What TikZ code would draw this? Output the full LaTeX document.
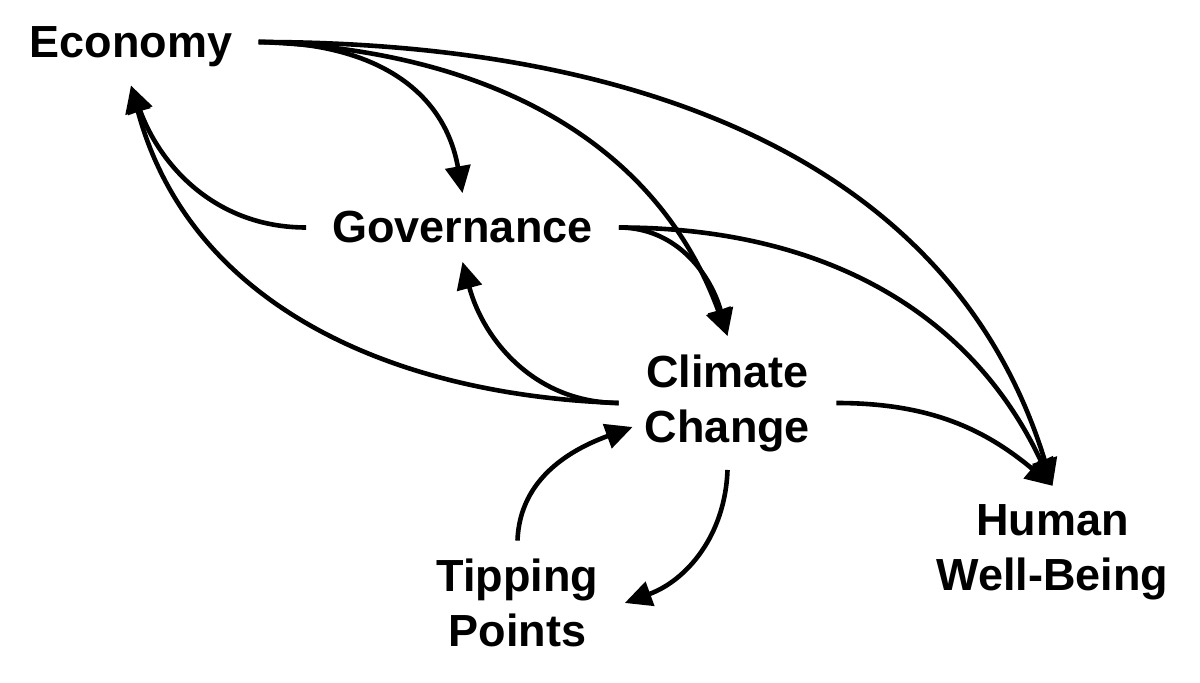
\documentclass[tikz,border=0pt]{standalone}
\usepackage{fontspec}
\setmainfont{Liberation Sans}
\usetikzlibrary{arrows.meta}

\begin{document}
\begin{tikzpicture}[x=0.5pt, y=-0.5pt, >={Triangle[length=13.5pt, width=12.5pt]},
    factor/.style={font=\fontsize{22.5}{27.5}\selectfont\bfseries, align=center, inner xsep=13pt, inner ysep=9pt},
    link/.style={->, line width=2.3pt}]

    \useasboundingbox (0,0) rectangle (1200,683);

    % factors
    \node[factor] (eco) at (131,47) {Economy};
    \node[factor] (gov) at (462.5,227.5) {Governance};
    \node[factor] (cc) at (727.5,403) {Climate\\Change};
    \node[factor] (tp) at (517.5,603) {Tipping\\Points};
    \node[factor] (hwb) at (1052.5,552) {Human\\Well-Being};

    % from economy
    \draw[link] ([yshift=2.5pt]eco.east) to[out=0, in=100, looseness=1.1] (gov.north);
    \draw[link] ([yshift=2.5pt]eco.east) to[out=-2, in=110] (cc.north);
    \draw[link] ([yshift=2.5pt]eco.east) to[out=0, in=107] (hwb.north);

    % from governance
    \draw[link] (gov.west) to[out=180, in=-70] (eco.south);
    \draw[link] (gov.east) to[out=0, in=105] (cc.north);
    \draw[link] (gov.east) to[out=0, in=115] (hwb.north);

    % from climate change
    \draw[link] (cc.west) to[out=178, in=-75] (eco.south);
    \draw[link] (cc.west) to[out=180, in=-75] (gov.south);
    \draw[link] (cc.east) to[out=0, in=140] (hwb.north);
    \draw[link] (cc.south) to[out=-92, in=20] (tp.east);

    % feedback loop
    \draw[link] (tp.north) to[out=88, in=200] ([xshift=7pt, yshift=-12pt]cc.west);
\end{tikzpicture}
\end{document}
